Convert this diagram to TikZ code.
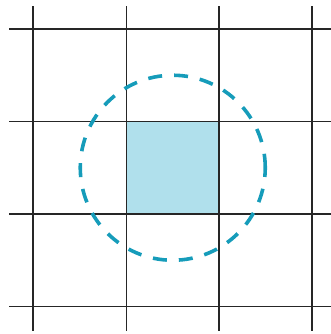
\documentclass[tikz,border=0pt]{standalone}
\definecolor{cellfill}{RGB}{176,224,236}
\definecolor{ringcol}{RGB}{22,156,186}
\begin{document}
\begin{tikzpicture}[x=1pt,y=1pt,
  gridline/.style={draw=black!85,line width=1.3pt},
  ring/.style={draw=ringcol,line width=3.6pt,dash pattern=on 14pt off 12pt}]
\useasboundingbox (0,0) rectangle (331,334);
\fill[cellfill] (126.5,120) rectangle (219,212.5);
\foreach \x in {33,126.5,219,312} \draw[gridline] (\x,3) -- (\x,328);
\foreach \y in {27.5,120,212.5,305} \draw[gridline] (9,\y) -- (331,\y);
\coordinate (c) at (172.75,166.25);
\draw[ring] (c) circle[radius=92.5];
\end{tikzpicture}
\end{document}
